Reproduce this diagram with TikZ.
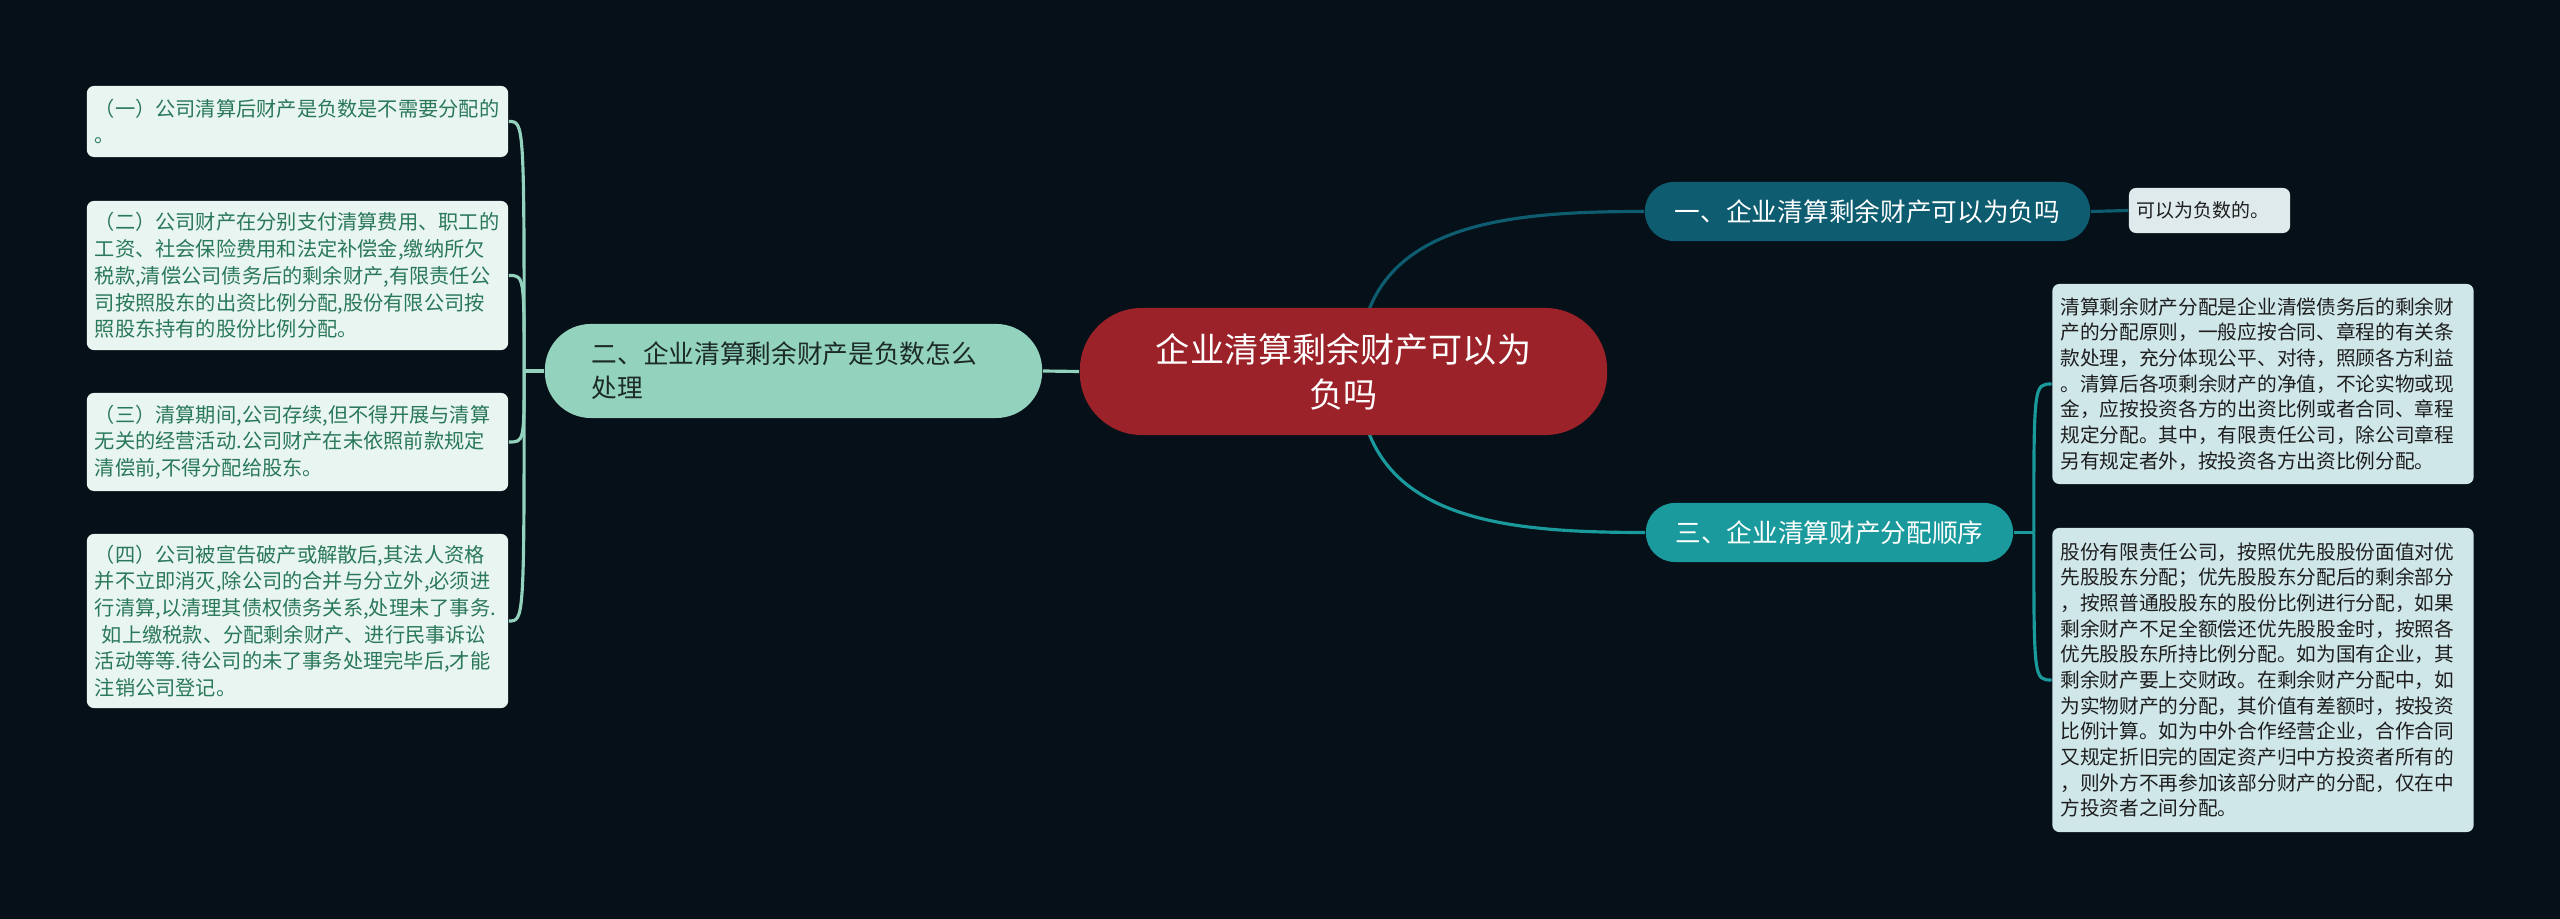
\documentclass[tikz,border=0pt]{standalone}
\usepackage{fontspec}
\setmainfont{Noto Sans CJK SC}
\usetikzlibrary{
    positioning,                      % colocacion relativa
    backgrounds                       % capa de fondo para lineas
}
\definecolor{fondo}{RGB}{5,16,24}
\definecolor{raiz}{RGB}{155,34,40}
\definecolor{rama1}{RGB}{13,92,112}
\definecolor{rama2}{RGB}{147,210,189}
\definecolor{rama3}{RGB}{26,154,156}
\definecolor{tinta2}{RGB}{28,42,40}
\definecolor{hojaL}{RGB}{233,245,241}
\definecolor{tintaL}{RGB}{42,120,90}
\definecolor{hojaR}{RGB}{208,231,234}
\definecolor{tintaR}{RGB}{30,30,30}
\tikzset{
    topic/.style={
        rectangle, fill=raiz, text=white, rounded corners=0.62cm,
        minimum width=5.27cm, minimum height=1.27cm,
        align=center, font=\fontsize{9.7pt}{12.8pt}\selectfont
    },
    branch/.style={
        rectangle, rounded corners=0.29cm,
        minimum height=0.59cm, inner sep=2pt,
        align=center, font=\fontsize{7.3pt}{9.7pt}\selectfont
    },
    leafL/.style={
        rectangle, fill=hojaL, text=tintaL, rounded corners=0.07cm,
        text width=4.05cm, inner xsep=0.08cm, inner ysep=2pt,
        align=left, font=\fontsize{5.75pt}{7.6pt}\selectfont
    },
    leafR/.style={
        leafL, fill=hojaR, text=tintaR,
        font=\fontsize{5.6pt}{7.3pt}\selectfont
    },
    link/.style={
        line width=0.9pt
    }
}
\begin{document}
\begin{tikzpicture}[x=0.01cm, y=-0.01cm]

    % nodo central
    \node[topic] (root) at (1343.5,371.5) {企业清算剩余财产可以为\\负吗};

    % ramas
    \node[branch, fill=rama1, text=white, minimum width=4.45cm] (b1) at (1867.5,211.5)
        {一、企业清算剩余财产可以为负吗};
    \node[branch, fill=rama3, text=white, minimum width=3.67cm] (b3) at (1829.5,532.5)
        {三、企业清算财产分配顺序};
    \node[branch, fill=rama2, text=tinta2, minimum height=0.94cm, rounded corners=0.46cm,
          text width=4.03cm, inner xsep=0.47cm, align=left] (b2) at (793.5,371)
        {二、企业清算剩余财产是负数怎么\\处理};

    % hojas derecha
    \node[leafR, fill=hojaR!90!gray!60, text width=1.45cm, minimum height=0.45cm,
          font=\fontsize{5.4pt}{6.5pt}\selectfont] (n1) at (2209.5,210.5) {可以为负数的。};
    \node[leafR, minimum height=2.00cm] (r1) at (2263,384)
        {清算剩余财产分配是企业清偿债务后的剩余财\\产的分配原则，一般应按合同、章程的有关条\\款处理，充分体现公平、对待，照顾各方利益\\。清算后各项剩余财产的净值，不论实物或现\\金，应按投资各方的出资比例或者合同、章程\\规定分配。其中，有限责任公司，除公司章程\\另有规定者外，按投资各方出资比例分配。};
    \node[leafR, minimum height=3.04cm] (r2) at (2263,680)
        {股份有限责任公司，按照优先股股份面值对优\\先股股东分配；优先股股东分配后的剩余部分\\，按照普通股股东的股份比例进行分配，如果\\剩余财产不足全额偿还优先股股金时，按照各\\优先股股东所持比例分配。如为国有企业，其\\剩余财产要上交财政。在剩余财产分配中，如\\为实物财产的分配，其价值有差额时，按投资\\比例计算。如为中外合作经营企业，合作合同\\又规定折旧完的固定资产归中方投资者所有的\\，则外方不再参加该部分财产的分配，仅在中\\方投资者之间分配。};

    % hojas izquierda
    \node[leafL, minimum height=0.71cm] (l1) at (297.5,121.5)
        {（一）公司清算后财产是负数是不需要分配的\\。};
    \node[leafL, minimum height=1.49cm] (l2) at (297.5,275.5)
        {（二）公司财产在分别支付清算费用、职工的\\工资、社会保险费用和法定补偿金,缴纳所欠\\税款,清偿公司债务后的剩余财产,有限责任公\\司按照股东的出资比例分配,股份有限公司按\\照股东持有的股份比例分配。};
    \node[leafL, minimum height=0.98cm] (l3) at (297.5,442)
        {（三）清算期间,公司存续,但不得开展与清算\\无关的经营活动.公司财产在未依照前款规定\\清偿前,不得分配给股东。};
    \node[leafL, minimum height=1.74cm] (l4) at (297.5,621)
        {（四）公司被宣告破产或解散后,其法人资格\\并不立即消灭,除公司的合并与分立外,必须进\\行清算,以清理其债权债务关系,处理未了事务.\\\hspace*{2pt}如上缴税款、分配剩余财产、进行民事诉讼\\活动等等.待公司的未了事务处理完毕后,才能\\注销公司登记。};

    \coordinate (hubL) at ([xshift=-0.2cm]b2.west);
    \coordinate (hubR) at ([xshift=0.2cm]b3.east);

    \begin{scope}[on background layer]
        \fill[fondo] (0,0) rectangle (2560,919);

        % centro hacia ramas
        \draw[link, rama1] ([xshift=0.15cm]root.center) to[out=90, in=180, looseness=1.15] (b1.west);
        \draw[link, rama3] ([xshift=0.15cm]root.center) to[out=-90, in=180, looseness=1.15] (b3.west);
        \draw[link, rama2] (b2.east) -- (root.west);
        \draw[link, rama1] (b1.east) -- (n1.west);

        % ramas hacia hojas
        \draw[link, rama2] (b2.west) -- (hubL);
        \foreach \leaf in {l1,l2,l3,l4}
            \draw[link, rama2] (hubL) .. controls (hubL |- \leaf.east) .. (\leaf.east);
        \draw[link, rama3] (b3.east) -- (hubR);
        \foreach \leaf in {r1,r2}
            \draw[link, rama3] (hubR) .. controls (hubR |- \leaf.west) .. (\leaf.west);
    \end{scope}
\end{tikzpicture}
\end{document}
